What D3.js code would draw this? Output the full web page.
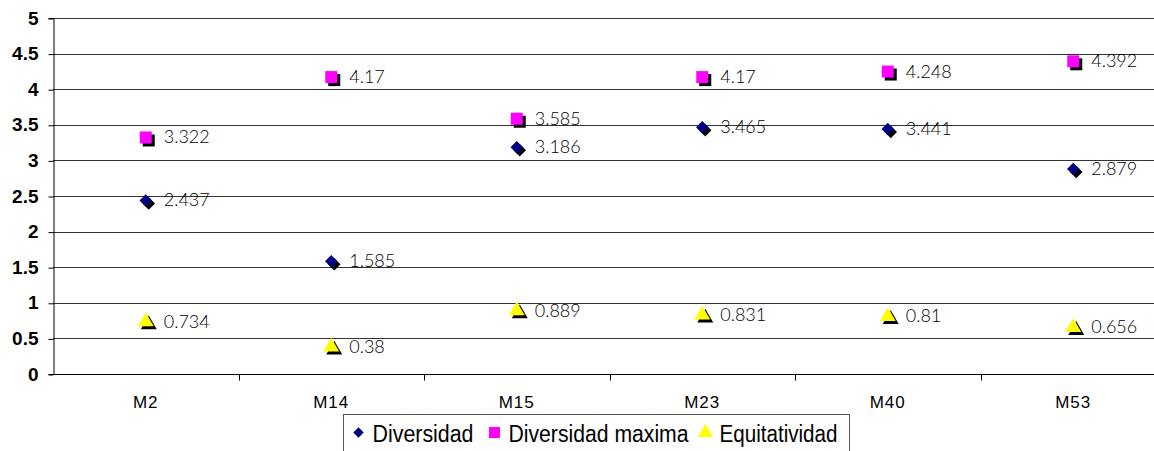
<!DOCTYPE html>
<html>
<head>
<meta charset="utf-8">
<script src="https://cdn.jsdelivr.net/npm/d3@7"></script>
<style>
  body { margin: 0; background: #fff; }
  svg { display: block; }
</style>
</head>
<body>
<div id="chart"></div>
<script>
const categories = ["M2", "M14", "M15", "M23", "M40", "M53"];
const diversidad = [2.437, 1.585, 3.186, 3.465, 3.441, 2.879];
const diversidadMax = [3.322, 4.17, 3.585, 4.17, 4.248, 4.392];
const equitatividad = [0.734, 0.38, 0.889, 0.831, 0.81, 0.656];
const yTicks = [0, 0.5, 1, 1.5, 2, 2.5, 3, 3.5, 4, 4.5, 5];
const seriesNames = ["Diversidad", "Diversidad maxima", "Equitatividad"];

let width = 1154, height = 451,
    margin = ({ top: 18, right: -12, bottom: 77, left: 53 });

const svg = d3.select("#chart")
  .append("svg")
  .attr("width", width)
  .attr("height", height);

let x = d3.scaleBand()
  .domain(categories)
  .range([margin.left, width - margin.right]);

let y = d3.scaleLinear()
  .domain([0, 5])
  .range([height - margin.bottom, margin.top]);

// grid lines
svg.append("g")
  .selectAll("line")
  .data(yTicks)
  .join("line")
  .attr("x1", margin.left)
  .attr("x2", width)
  .attr("y1", d => Math.round(y(d)) + 0.5)
  .attr("y2", d => Math.round(y(d)) + 0.5)
  .attr("stroke", "#333")
  .attr("stroke-width", 1);

// y axis
const yAxis = svg.append("g")
  .attr("transform", `translate(${margin.left + 0.5},0)`)
  .call(d3.axisLeft(y).tickValues(yTicks).tickFormat(d => d).tickSize(5).tickPadding(10));
yAxis.select(".domain").attr("stroke", "#000");
yAxis.selectAll(".tick line").attr("stroke", "#000").attr("transform", "translate(0,0.5)");
yAxis.selectAll("text")
  .attr("font-family", "Liberation Sans, Arial, sans-serif")
  .attr("font-weight", "bold")
  .attr("font-size", 19)
  .attr("fill", "#000");

// x axis
const xBottom = Math.round(y(0)) + 0.5;
const xAxis = svg.append("g")
  .attr("transform", `translate(0,${xBottom})`);
xAxis.append("line")
  .attr("x1", margin.left).attr("x2", width)
  .attr("stroke", "#000");
xAxis.selectAll(".xtick")
  .data(categories.slice(1))
  .join("line")
  .attr("x1", d => Math.round(x(d)) + 0.5)
  .attr("x2", d => Math.round(x(d)) + 0.5)
  .attr("y1", 0).attr("y2", 6)
  .attr("stroke", "#000");
xAxis.selectAll(".xlabel")
  .data(categories)
  .join("text")
  .attr("x", d => x(d) + x.bandwidth() / 2)
  .attr("y", 33)
  .attr("text-anchor", "middle")
  .attr("font-family", "Liberation Sans, Arial, sans-serif")
  .attr("font-size", 17)
  .attr("letter-spacing", 1)
  .text(d => d);

// markers
const sym = {
  diamond: d3.symbol().type(d3.symbolDiamond2).size(100),
  square: d3.symbol().type(d3.symbolSquare).size(144),
  triangle: d3.symbol().type(d3.symbolTriangle).size(110)
};

const series = [
  { values: diversidad, shape: sym.diamond(), color: "#000080" },
  { values: diversidadMax, shape: sym.square(), color: "#FF00FF" },
  { values: equitatividad, shape: sym.triangle(), color: "#FFFF00" }
];

series.forEach(s => {
  const g = svg.append("g");
  const pts = categories.map((c, i) => ({ c, v: s.values[i] }));
  const cx = d => x(d.c) + x.bandwidth() / 2;
  // shadow
  g.selectAll(".shadow")
    .data(pts)
    .join("path")
    .attr("d", s.shape)
    .attr("transform", d => `translate(${cx(d) + 3},${y(d.v) + 3})`)
    .attr("fill", "#000");
  g.selectAll(".mark")
    .data(pts)
    .join("path")
    .attr("d", s.shape)
    .attr("transform", d => `translate(${cx(d)},${y(d.v)})`)
    .attr("fill", s.color);
  g.selectAll("text")
    .data(pts)
    .join("text")
    .attr("x", d => cx(d) + 18)
    .attr("y", d => y(d.v) + 6)
    .attr("font-family", "Lato, sans-serif")
    .attr("font-weight", 300)
    .attr("font-size", 18)
    .attr("fill", "#000")
    .text(d => d.v);
});

// legend
const lg = svg.append("g").attr("transform", "translate(343.5,414.5)");
lg.append("rect")
  .attr("width", 506).attr("height", 40)
  .attr("fill", "#fff").attr("stroke", "#555");
const legendItems = [
  { name: seriesNames[0], shape: d3.symbol().type(d3.symbolDiamond2).size(70)(), color: "#000080", x: 15, w: 101 },
  { name: seriesNames[1], shape: d3.symbol().type(d3.symbolSquare).size(121)(), color: "#FF00FF", x: 151, w: 180 },
  { name: seriesNames[2], shape: d3.symbol().type(d3.symbolTriangle).size(100)(), color: "#FFFF00", x: 362, w: 118 }
];
legendItems.forEach(it => {
  lg.append("path")
    .attr("d", it.shape)
    .attr("transform", `translate(${it.x},${18})`)
    .attr("fill", it.color);
  lg.append("text")
    .attr("x", it.x + 14)
    .attr("y", 27)
    .attr("font-family", "Liberation Sans, Arial, sans-serif")
    .attr("font-size", 23)
    .attr("textLength", it.w)
    .attr("lengthAdjust", "spacingAndGlyphs")
    .text(it.name);
});
</script>
</body>
</html>
